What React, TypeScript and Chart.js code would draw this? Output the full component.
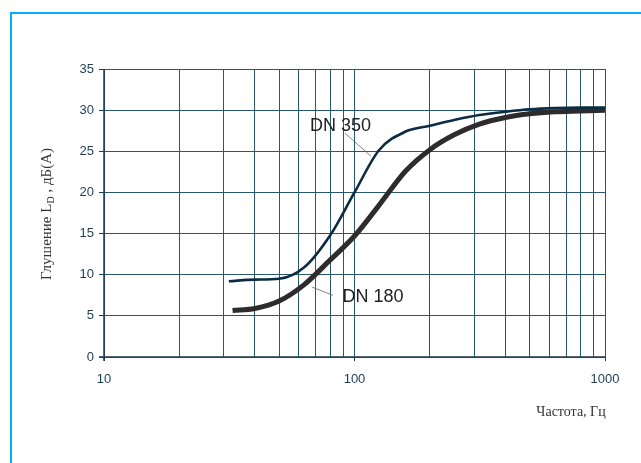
import React, { useEffect, useRef } from "react";
import { Chart, registerables } from "chart.js";

Chart.register(...registerables);

// Data (frequency in Hz, attenuation in dB(A))
const freqDN350 = [31.5, 40, 50, 63, 80, 100, 125, 160, 200, 250, 315, 400, 500, 630, 800, 1000];
const dbDN350 = [9.2, 9.4, 9.5, 10.9, 14.8, 20.0, 25.1, 27.4, 28.1, 28.8, 29.4, 29.8, 30.1, 30.25, 30.3, 30.3];
const freqDN180 = [32.6, 40, 50, 63, 80, 100, 125, 160, 200, 250, 315, 400, 500, 630, 800, 1000];
const dbDN180 = [5.65, 5.9, 6.8, 8.8, 11.8, 14.7, 18.4, 22.6, 25.2, 27.0, 28.3, 29.1, 29.55, 29.8, 29.9, 30.0];
const xGridValues = [10, 20, 30, 40, 50, 60, 70, 80, 90, 100, 200, 300, 400, 500, 600, 700, 800, 900, 1000];
const xLabelValues = [10, 100, 1000];
const yTicks = [0, 5, 10, 15, 20, 25, 30, 35];
const seriesNames = ["DN 350", "DN 180"];
const yTitleParts = ["Глушение L", "D", " , дБ(A)"];
const xTitle = "Частота, Гц";

const GRID = "#2a566e";
const AXIS = "#1c3d52";
const TICKTXT = "#1e3c52";

const decorPlugin = {
  id: "decor",
  beforeDraw(chart: any) {
    const { ctx } = chart;
    ctx.save();
    ctx.fillStyle = "#ffffff";
    ctx.fillRect(0, 0, chart.width, chart.height);
    ctx.fillStyle = "#00b0f0";
    ctx.fillRect(10, 12, chart.width - 10, 2);
    ctx.fillRect(10, 12, 2, chart.height - 12);
    ctx.restore();
  },
  afterDraw(chart: any) {
    const { ctx, scales } = chart;
    const xs = scales.x;
    const ys = scales.y;
    const ca = chart.chartArea;
    ctx.save();
    // axis lines (emphasized)
    ctx.strokeStyle = AXIS;
    ctx.lineWidth = 1.5;
    ctx.beginPath();
    ctx.moveTo(ca.left, ca.top);
    ctx.lineTo(ca.left, ca.bottom + 4);
    ctx.moveTo(ca.left - 5, ca.bottom);
    ctx.lineTo(ca.right, ca.bottom);
    ctx.stroke();

    // series labels with leader lines
    ctx.strokeStyle = "#666";
    ctx.lineWidth = 0.8;
    ctx.beginPath();
    ctx.moveTo(xs.getPixelForValue(91.6), ys.getPixelForValue(27.2));
    ctx.lineTo(xs.getPixelForValue(116.4), ys.getPixelForValue(24.4));
    ctx.moveTo(xs.getPixelForValue(67.6), ys.getPixelForValue(8.5));
    ctx.lineTo(xs.getPixelForValue(82), ys.getPixelForValue(7.5));
    ctx.stroke();

    ctx.font = "18px 'Liberation Sans', Arial, sans-serif";
    ctx.fillStyle = "#222";
    ctx.textAlign = "center";
    ctx.textBaseline = "middle";
    ctx.fillText(seriesNames[0], xs.getPixelForValue(88), ys.getPixelForValue(28.05));
    ctx.fillText(seriesNames[1], xs.getPixelForValue(118.6), ys.getPixelForValue(7.3));

    // x title
    ctx.font = "14px 'Liberation Serif', 'Times New Roman', serif";
    ctx.fillStyle = "#333";
    ctx.textAlign = "center";
    ctx.textBaseline = "middle";
    ctx.fillText(xTitle, 571, 412);

    // y title (rotated) with subscript
    ctx.translate(51, 214);
    ctx.rotate(-Math.PI / 2);
    const mainFont = "15px 'Liberation Serif', 'Times New Roman', serif";
    const subFont = "10px 'Liberation Serif', 'Times New Roman', serif";
    ctx.font = mainFont;
    const w0 = ctx.measureText(yTitleParts[0]).width;
    const w2 = ctx.measureText(yTitleParts[2]).width;
    ctx.font = subFont;
    const w1 = ctx.measureText(yTitleParts[1]).width;
    const total = w0 + w1 + w2;
    let px = -total / 2;
    ctx.textAlign = "left";
    ctx.textBaseline = "alphabetic";
    ctx.fillStyle = "#333";
    ctx.font = mainFont;
    ctx.fillText(yTitleParts[0], px, 0);
    px += w0;
    ctx.font = subFont;
    ctx.fillText(yTitleParts[1], px, 3);
    px += w1;
    ctx.font = mainFont;
    ctx.fillText(yTitleParts[2], px, 0);
    ctx.restore();
  },
};

export default function App() {
  const ref = useRef<HTMLCanvasElement | null>(null);
  useEffect(() => {
    if (!ref.current) return;
    const chart = new Chart(ref.current, {
      type: "line",
      data: {
        datasets: [
          {
            label: seriesNames[0],
            data: freqDN350.map((f, i) => ({ x: f, y: dbDN350[i] })),
            borderColor: "#0b2c42",
            borderWidth: 2.6,
            pointRadius: 0,
            cubicInterpolationMode: "monotone",
            fill: false,
          },
          {
            label: seriesNames[1],
            data: freqDN180.map((f, i) => ({ x: f, y: dbDN180[i] })),
            borderColor: "#2d2b2b",
            borderWidth: 5,
            pointRadius: 0,
            cubicInterpolationMode: "monotone",
            fill: false,
          },
        ],
      },
      options: {
        responsive: false,
        animation: false,
        events: [],
        layout: { padding: { left: 0, top: 69, right: 36, bottom: 0 } },
        plugins: { legend: { display: false }, tooltip: { enabled: false } },
        scales: {
          x: {
            type: "logarithmic",
            min: 10,
            max: 1000,
            afterBuildTicks: (s: any) => {
              s.ticks = xGridValues.map((v) => ({ value: v }));
            },
            afterFit: (s: any) => {
              s.height = 106;
            },
            border: { display: false },
            grid: {
              color: GRID,
              lineWidth: 1,
              tickLength: 4,
              tickColor: (c: any) => (xLabelValues.includes(c.tick?.value) ? AXIS : "rgba(0,0,0,0)"),
            },
            ticks: {
              autoSkip: false,
              maxRotation: 0,
              padding: 11,
              color: TICKTXT,
              font: { size: 13, family: "'Liberation Sans', Arial, sans-serif" },
              callback: (v: any) => (xLabelValues.includes(Number(v)) ? String(v) : ""),
            },
          },
          y: {
            min: 0,
            max: 35,
            afterBuildTicks: (s: any) => {
              s.ticks = yTicks.map((v) => ({ value: v }));
            },
            afterFit: (s: any) => {
              s.width = 104;
            },
            border: { display: false },
            grid: { color: GRID, lineWidth: 1, tickLength: 5, tickColor: AXIS },
            ticks: {
              padding: 5,
              color: TICKTXT,
              font: { size: 13, family: "'Liberation Sans', Arial, sans-serif" },
            },
          },
        },
      },
      plugins: [decorPlugin],
    } as any);
    return () => chart.destroy();
  }, []);
  return (
    <div style={{ position: "fixed", left: 0, top: 0, width: 641, height: 463, background: "#fff" }}>
      <canvas ref={ref} width={641} height={463} style={{ display: "block", width: 641, height: 463 }} />
    </div>
  );
}
